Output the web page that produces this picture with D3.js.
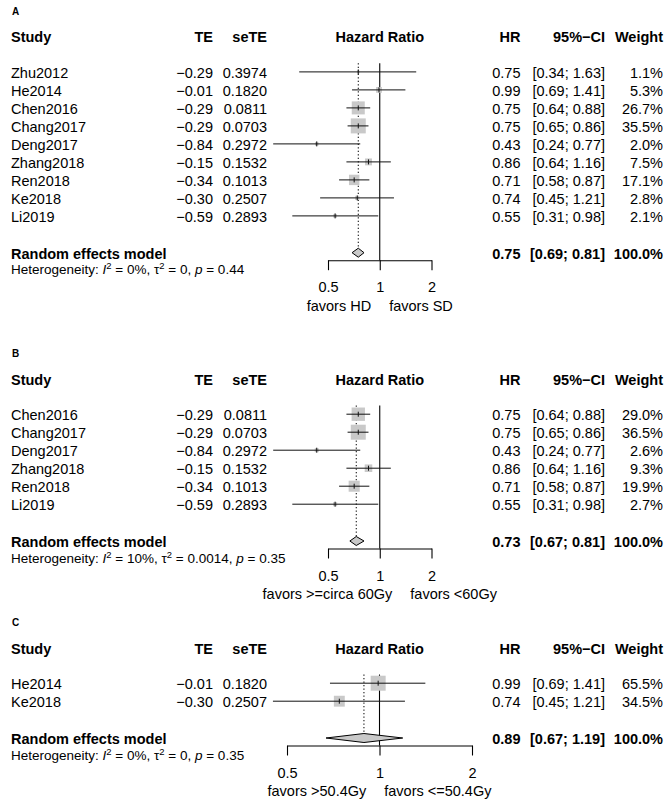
<!DOCTYPE html>
<html><head><meta charset="utf-8">
<script src="https://cdn.jsdelivr.net/npm/d3@7"></script>
<style>
body{margin:0;background:#fff}
svg{display:block}
text{font-family:"Liberation Sans",Arial,Helvetica,sans-serif;fill:#000}
</style>
</head><body>
<svg id="chart" width="669" height="808"></svg>
<script>
// ---------- DATA ----------
// Panel A
const studiesA = ["Zhu2012","He2014","Chen2016","Chang2017","Deng2017","Zhang2018","Ren2018","Ke2018","Li2019"];
const teA      = [-0.29,-0.01,-0.29,-0.29,-0.84,-0.15,-0.34,-0.30,-0.59];
const seteA    = [0.3974,0.1820,0.0811,0.0703,0.2972,0.1532,0.1013,0.2507,0.2893];
const hrA      = [0.75,0.99,0.75,0.75,0.43,0.86,0.71,0.74,0.55];
const lowerA   = [0.34,0.69,0.64,0.65,0.24,0.64,0.58,0.45,0.31];
const upperA   = [1.63,1.41,0.88,0.86,0.77,1.16,0.87,1.21,0.98];
const weightA  = [1.1,5.3,26.7,35.5,2.0,7.5,17.1,2.8,2.1];
const summaryA = [0.75,0.69,0.81];
const hetA     = ["0%","0","0.44"];
const favorsA  = ["favors HD","favors SD"];

// Panel B
const studiesB = ["Chen2016","Chang2017","Deng2017","Zhang2018","Ren2018","Li2019"];
const teB      = [-0.29,-0.29,-0.84,-0.15,-0.34,-0.59];
const seteB    = [0.0811,0.0703,0.2972,0.1532,0.1013,0.2893];
const hrB      = [0.75,0.75,0.43,0.86,0.71,0.55];
const lowerB   = [0.64,0.65,0.24,0.64,0.58,0.31];
const upperB   = [0.88,0.86,0.77,1.16,0.87,0.98];
const weightB  = [29.0,36.5,2.6,9.3,19.9,2.7];
const summaryB = [0.73,0.67,0.81];
const hetB     = ["10%","0.0014","0.35"];
const favorsB  = ["favors >=circa 60Gy","favors <60Gy"];

// Panel C
const studiesC = ["He2014","Ke2018"];
const teC      = [-0.01,-0.30];
const seteC    = [0.1820,0.2507];
const hrC      = [0.99,0.74];
const lowerC   = [0.69,0.45];
const upperC   = [1.41,1.21];
const weightC  = [65.5,34.5];
const summaryC = [0.89,0.67,1.19];
const hetC     = ["0%","0","0.35"];
const favorsC  = ["favors >50.4Gy","favors <=50.4Gy"];

const panelLabels = ["A","B","C"];
const axisTicks = [0.5,1,2];
const axisTickLabels = ["0.5","1","2"];
const headers = ["Study","TE","seTE","Hazard Ratio","HR","95%\u2212CI","Weight"];
const summaryLabel = "Random effects model";

// ---------- LAYOUT ----------
const FS = 14.5, FSH = 13.5;
const colX = {study:11, te:213, sete:267, hr:520.5, ci:605, w:663};
const panels = [
  {label:panelLabels[0], top:11,    xr:[328,431.5], studies:studiesA, te:teA, sete:seteA, hr:hrA, lo:lowerA, hi:upperA, w:weightA, sum:summaryA, het:hetA, fav:favorsA},
  {label:panelLabels[1], top:353.3, xr:[328,431.5], studies:studiesB, te:teB, sete:seteB, hr:hrB, lo:lowerB, hi:upperB, w:weightB, sum:summaryB, het:hetB, fav:favorsB},
  {label:panelLabels[2], top:622.3, xr:[287,472],   studies:studiesC, te:teC, sete:seteC, hr:hrC, lo:lowerC, hi:upperC, w:weightC, sum:summaryC, het:hetC, fav:favorsC}
];

const svg = d3.select("#chart");
const fmtTE = v => (v < 0 ? "\u2212" : "") + Math.abs(v).toFixed(2);
const fmt2 = v => v.toFixed(2);
const fmtCI = (a,b) => "[" + a.toFixed(2) + "; " + b.toFixed(2) + "]";
const fmtW = v => v.toFixed(1) + "%";

function txt(g, x, yc, s, anchor, bold, size) {
  size = size || FS;
  return g.append("text").attr("x", x).attr("y", yc + size*0.355)
    .attr("text-anchor", anchor || "start")
    .attr("font-weight", bold ? "bold" : "normal")
    .attr("font-size", size).text(s);
}

panels.forEach(p => {
  const g = svg.append("g");
  const x = d3.scaleLog().domain([0.5,2]).range(p.xr);
  const headerY = p.top + 26.3;
  const rowY = i => p.top + 61.7 + i*18;
  const n = p.studies.length;
  const reY = rowY(n - 1) + 36;
  const axisY = reY + 7.5;
  const topLine = rowY(0) - 9.5;
  const wmax = d3.max(p.w);
  const sq = d3.scaleSqrt().domain([0, wmax]).range([0, 15]);

  // panel label
  txt(g, 12, p.top, p.label, "start", true, 10);

  // header
  txt(g, colX.study, headerY, headers[0], "start", true);
  txt(g, colX.te, headerY, headers[1], "end", true);
  txt(g, colX.sete, headerY, headers[2], "end", true);
  txt(g, x(1), headerY, headers[3], "middle", true);
  txt(g, colX.hr, headerY, headers[4], "end", true);
  txt(g, colX.ci, headerY, headers[5], "end", true);
  txt(g, colX.w, headerY, headers[6], "end", true);

  // reference line at 1
  g.append("line").attr("x1", x(1)).attr("x2", x(1))
    .attr("y1", topLine).attr("y2", axisY)
    .attr("stroke", "#000").attr("stroke-width", 1.1);
  // dotted summary line
  g.append("line").attr("x1", x(p.sum[0])).attr("x2", x(p.sum[0]))
    .attr("y1", topLine).attr("y2", reY - 4.5)
    .attr("stroke", "#000").attr("stroke-width", 1).attr("stroke-dasharray", "1.3,2.2");

  // study rows
  p.studies.forEach((s, i) => {
    const yc = rowY(i);
    txt(g, colX.study, yc, s, "start");
    txt(g, colX.te, yc, fmtTE(p.te[i]), "end");
    txt(g, colX.sete, yc, p.sete[i].toFixed(4), "end");
    txt(g, colX.hr, yc, fmt2(p.hr[i]), "end");
    txt(g, colX.ci, yc, fmtCI(p.lo[i], p.hi[i]), "end");
    txt(g, colX.w, yc, fmtW(p.w[i]), "end");
    const my = yc - 0.8;
    const s2 = sq(p.w[i]);
    g.append("rect").attr("x", x(p.hr[i]) - s2/2).attr("y", my - s2/2)
      .attr("width", s2).attr("height", s2).attr("fill", "#c9c9c9");
    g.append("line").attr("x1", x(p.lo[i])).attr("x2", x(p.hi[i]))
      .attr("y1", my).attr("y2", my).attr("stroke", "#111").attr("stroke-width", 1);
    g.append("line").attr("x1", x(p.hr[i])).attr("x2", x(p.hr[i]))
      .attr("y1", my - 2.5).attr("y2", my + 2.5).attr("stroke", "#111").attr("stroke-width", 1);
  });

  // random effects model
  txt(g, colX.study, reY + 1, summaryLabel, "start", true);
  txt(g, colX.hr, reY + 1, fmt2(p.sum[0]), "end", true);
  txt(g, colX.ci, reY + 1, fmtCI(p.sum[1], p.sum[2]), "end", true);
  txt(g, colX.w, reY + 1, "100.0%", "end", true);
  const dpts = [[x(p.sum[1]), reY], [x(p.sum[0]), reY - 4.5], [x(p.sum[2]), reY], [x(p.sum[0]), reY + 4.5]];
  g.append("path").attr("d", d3.line()(dpts) + "Z")
    .attr("fill", "#c9c9c9").attr("stroke", "#000").attr("stroke-width", 1);

  // heterogeneity
  const hy = reY + 17;
  const ht = g.append("text").attr("x", colX.study).attr("y", hy + FSH*0.355).attr("font-size", FSH);
  ht.append("tspan").text("Heterogeneity: ");
  ht.append("tspan").attr("font-style", "italic").text("I");
  ht.append("tspan").attr("font-size", FSH*0.7).attr("dy", -5).text("2");
  ht.append("tspan").attr("dy", 5).text(" = " + p.het[0] + ", \u03C4");
  ht.append("tspan").attr("font-size", FSH*0.7).attr("dy", -5).text("2");
  ht.append("tspan").attr("dy", 5).text(" = " + p.het[1] + ", ");
  ht.append("tspan").attr("font-style", "italic").text("p");
  ht.append("tspan").text(" = " + p.het[2]);

  // axis
  const ax = g.append("g").attr("transform", `translate(0,${axisY})`)
    .call(d3.axisBottom(x).tickValues(axisTicks)
      .tickFormat((d, i) => axisTickLabels[i]).tickSize(10).tickSizeOuter(0).tickPadding(12));
  ax.attr("font-family", null).attr("font-size", null);
  ax.selectAll("text").attr("font-size", FS).attr("fill", "#000");
  ax.selectAll("line,path").attr("stroke", "#000").attr("stroke-width", 1.1);

  // favors labels
  const fy = reY + 53;
  const ft = g.append("text").attr("x", x(1)).attr("y", fy + FS*0.355)
    .attr("text-anchor", "middle").attr("font-size", FS);
  ft.append("tspan").text(p.fav[0]);
  ft.append("tspan").attr("dx", 18).text(p.fav[1]);
});
</script>
</body></html>
